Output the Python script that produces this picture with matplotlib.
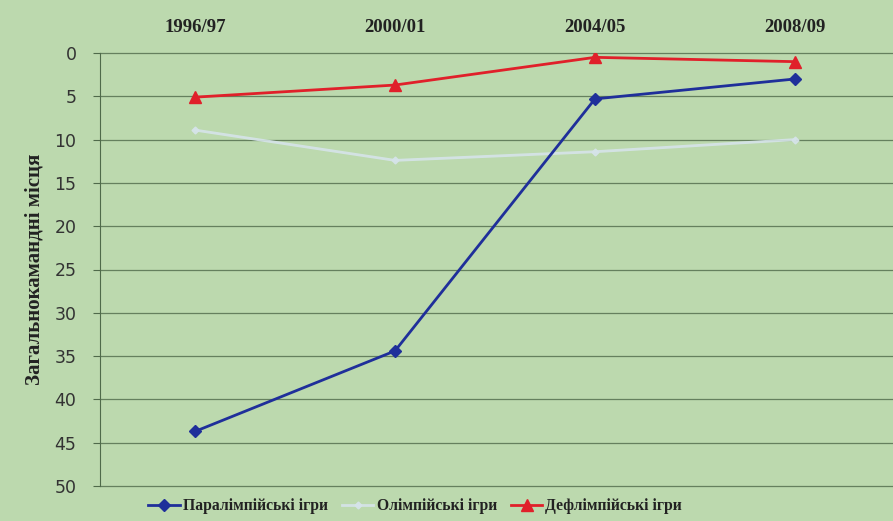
import matplotlib
matplotlib.use("Agg")
import matplotlib.pyplot as plt

seasons = ["1996/97", "2000/01", "2004/05", "2008/09"]
paralympic = [43.7, 34.4, 5.3, 3.0]
olympic = [8.9, 12.4, 11.4, 10.0]
deaflympic = [5.1, 3.7, 0.5, 1.0]
names = ["Паралімпійські ігри", "Олімпійські ігри", "Дефлімпійські ігри"]
yticks = list(range(0, 51, 5))

bg = "#bcd9ae"
fig = plt.figure(figsize=(8.93, 5.21), dpi=100, facecolor=bg)
ax = fig.add_axes([100/893, 1-486/521, 793/893, (486-53)/521])
ax.set_facecolor(bg)

x = list(range(len(seasons)))
ax.plot(x, paralympic, color="#1f2f9a", lw=2, marker="D", ms=6, label=names[0], zorder=4)
ax.plot(x, olympic, color="#d6e4ea", lw=2, marker="D", ms=3.5, label=names[1], zorder=3, alpha=0.9)
ax.plot(x, deaflympic, color="#e0202a", lw=2, marker="^", ms=8, label=names[2], zorder=4)

ax.set_ylim(50, 0)
ax.set_xlim(-0.475, 3.49)
ax.set_yticks(yticks)
ax.yaxis.grid(True, color="#4f6a4a", lw=0.9, alpha=0.8)
for gl in ax.get_ygridlines():
    gl.set_clip_on(False)
ax.set_axisbelow(True)
for s in ["top", "right", "bottom"]:
    ax.spines[s].set_visible(False)
ax.spines["left"].set_color("#4f6a4a")
ax.tick_params(axis="y", length=5, color="#4f6a4a", labelsize=12.5, labelcolor="#333333", pad=12)

ax.xaxis.tick_top()
ax.set_xticks(x)
ax.set_xticklabels(seasons, fontfamily="Liberation Serif", fontweight="bold", fontsize=13.5, color="#222222")
ax.tick_params(axis="x", length=0, pad=12)

ax.set_ylabel("Загальнокамандні місця", fontfamily="Liberation Serif", fontweight="bold",
              fontsize=15, color="#222222", labelpad=7)

leg = fig.legend(loc="lower center", bbox_to_anchor=(0.465, -0.014), ncol=3, frameon=False,
                 prop={"family": "Liberation Serif", "weight": "bold", "size": 11.3},
                 handlelength=2.0, columnspacing=0.9, handletextpad=0.2)
for t in leg.get_texts():
    t.set_color("#222222")

fig.savefig("out.png", dpi=100, facecolor=bg)
